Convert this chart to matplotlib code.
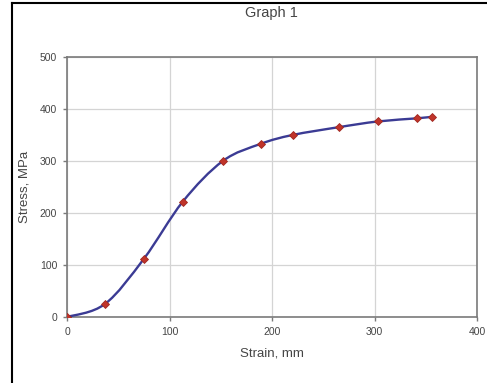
import matplotlib
matplotlib.use("Agg")
import matplotlib.pyplot as plt
import numpy as np
from matplotlib.path import Path
from matplotlib.patches import PathPatch
from matplotlib.lines import Line2D

plt.rcParams['font.family'] = ['Liberation Sans', 'DejaVu Sans']

# values
strain = [0, 37, 75, 113, 152, 189, 220, 265, 303, 341, 356]
stress = [0, 25, 112, 222, 300, 333, 350, 365, 376, 382, 385]

x_ticks = [0, 100, 200, 300, 400]
y_ticks = [0, 100, 200, 300, 400, 500]


def smooth_path(x, y):
    # Excel-style smoothed line: Bezier segments through every point
    p = np.column_stack([x, y]).astype(float)
    n = len(p)
    verts = [p[0]]
    codes = [Path.MOVETO]
    for i in range(n - 1):
        p0 = p[i - 1] if i > 0 else p[i]
        p3 = p[i + 2] if i + 2 < n else p[i + 1]
        c1 = p[i] + (p[i + 1] - p0) / 6
        c2 = p[i + 1] - (p3 - p[i]) / 6
        verts += [c1, c2, p[i + 1]]
        codes += [Path.CURVE4] * 3
    return Path(verts, codes)


fig = plt.figure(figsize=(4.87, 3.83), dpi=100)
ax = fig.add_axes([0.1376, 0.1723, 0.8419, 0.6789])

ax.add_patch(PathPatch(smooth_path(strain, stress), facecolor='none',
                       edgecolor='#3b3b94', lw=1.7, zorder=3))
ax.plot(strain, stress, linestyle='none', marker='D', ms=4.2,
        color='#c0342a', mec='#a02820', mew=0.6, zorder=4)

ax.set_xlim(0, 400)
ax.set_ylim(0, 500)
ax.set_xticks(x_ticks)
ax.set_yticks(y_ticks)
ax.grid(True, color='#d4d4d4', lw=0.9)
ax.set_axisbelow(True)
for s in ax.spines.values():
    s.set_color('#7a7a7a')
    s.set_linewidth(1.2)
ax.tick_params(colors='#7a7a7a', labelcolor='#454545', labelsize=7.5,
               length=3, width=1, direction='out', pad=4)

ax.set_xlabel('Strain, mm', fontsize=9.5, color='#454545', labelpad=8)
ax.set_ylabel('Stress, MPa', fontsize=9.5, color='#454545', labelpad=7)
fig.text(0.557, 0.966, 'Graph 1', ha='center', va='center',
         fontsize=10.5, color='#454545')

# page frame around the figure
fig.add_artist(Line2D([12 / 487, 12 / 487], [0, 1 - 3 / 383],
                      color='black', lw=1.5, transform=fig.transFigure))
fig.add_artist(Line2D([12 / 487, 1], [1 - 3 / 383, 1 - 3 / 383],
                      color='black', lw=1.5, transform=fig.transFigure))

fig.savefig('out.png', dpi=100)
